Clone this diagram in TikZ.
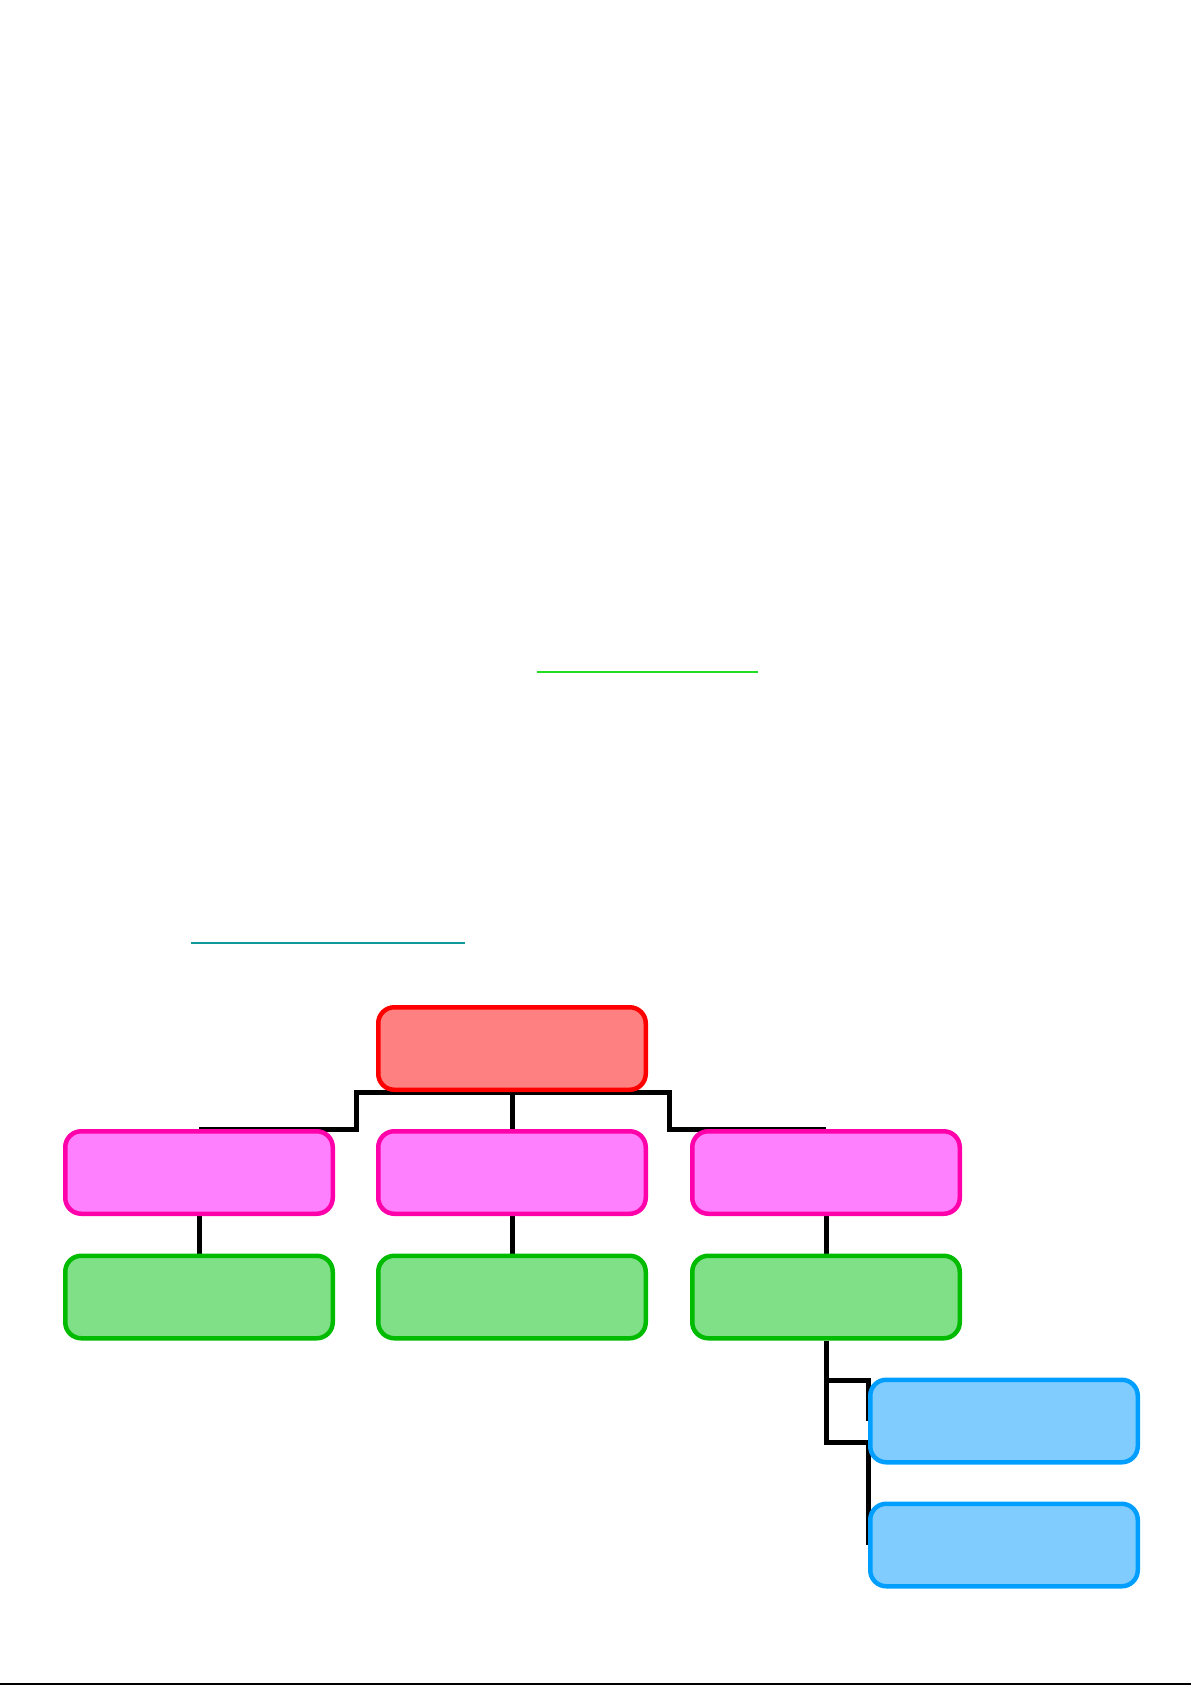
\documentclass[tikz,border=0pt]{standalone}
\usetikzlibrary{backgrounds}
\definecolor{redfill}{HTML}{FF8080}
\definecolor{redline}{HTML}{FF0000}
\definecolor{pinkfill}{HTML}{FF80FF}
\definecolor{pinkline}{HTML}{FF00AA}
\definecolor{greenfill}{HTML}{80E088}
\definecolor{greenline}{HTML}{00BB00}
\definecolor{bluefill}{HTML}{80CCFF}
\definecolor{blueline}{HTML}{009FFF}
\definecolor{ulgreen}{HTML}{22DD22}
\definecolor{ulteal}{HTML}{119999}
\tikzset{
  box/.style={rectangle, rounded corners=8pt, line width=2.25pt, minimum width=133.75pt, minimum height=41.25pt, inner sep=0pt},
  redbox/.style={box, draw=redline, fill=redfill},
  pinkbox/.style={box, draw=pinkline, fill=pinkfill},
  greenbox/.style={box, draw=greenline, fill=greenfill},
  bluebox/.style={box, draw=blueline, fill=bluefill},
  conn/.style={draw=black, line width=2.5pt},
}
\begin{document}
\begin{tikzpicture}[x=0.5pt, y=-0.5pt]
\useasboundingbox (0,0) rectangle (1191,1685);
% underlines
\draw[ulgreen, line width=0.75pt] (537,672) -- (758,672);
\draw[ulteal, line width=0.75pt] (191,943) -- (465,943);
% bottom rule
\draw[black, line width=1pt] (0,1684) -- (1191,1684);
% boxes
\node[redbox] (root) at (512,1048.5) {};
\node[pinkbox] (pl) at (199,1172.5) {};
\node[pinkbox] (pm) at (512,1172.5) {};
\node[pinkbox] (pr) at (826,1172.5) {};
\node[greenbox] (gl) at (199,1297) {};
\node[greenbox] (gm) at (512,1297) {};
\node[greenbox] (gr) at (826,1297) {};
\node[bluebox] (b1) at (1004,1421) {};
\node[bluebox] (b2) at (1004,1545) {};
% connectors
\begin{scope}[on background layer]
\draw[conn] (root.south) -- ++(-156,0) |- (pl.north);
\draw[conn] (root.south) -- (pm.north);
\draw[conn] (root.south) -- ++(157,0) |- (pr.north);
\draw[conn] (pl.south) -- (gl.north);
\draw[conn] (pm.south) -- (gm.north);
\draw[conn] (pr.south) -- (gr.north);
\draw[conn] (gr.south) -- ++(0,40) -| (b1.west);
\draw[conn] (gr.south) -- ++(0,102) -| (b2.west);
\end{scope}
\end{tikzpicture}
\end{document}
